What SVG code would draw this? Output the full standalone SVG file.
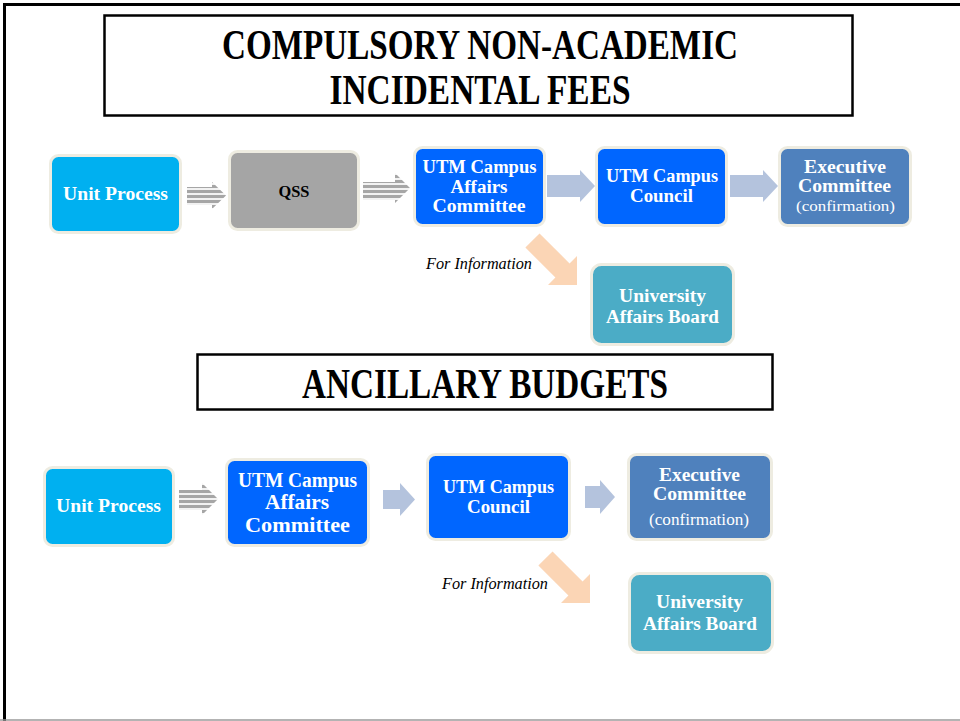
<svg xmlns="http://www.w3.org/2000/svg" width="960" height="721" viewBox="0 0 960 721">
<style>
.node{stroke:#eeece1;stroke-width:3}
.t{font-family:"Liberation Serif","DejaVu Serif",serif;font-weight:bold;fill:#fff;text-anchor:middle}
.n{font-family:"Liberation Serif","DejaVu Serif",serif;font-weight:normal;fill:#fff;text-anchor:middle}
.title{font-family:"Liberation Serif","DejaVu Serif",serif;font-weight:bold;fill:#000;text-anchor:middle}
.info{font-family:"Liberation Serif","DejaVu Serif",serif;font-style:italic;fill:#000;font-size:16px}
.blk{fill:#b4c3dd}
.org{fill:#fbd5b5}
.str{fill:url(#stripes)}
</style>
<defs>
<pattern id="stripes" patternUnits="userSpaceOnUse" width="10" height="5">
<rect width="10" height="5" fill="#f2f2f2"/>
<rect width="10" height="3" fill="#a6a6a6"/>
</pattern>
</defs>
<rect width="960" height="721" fill="#fff"/>
<path d="M4.5 721 V4.5 H960" fill="none" stroke="#000" stroke-width="3"/>
<line x1="0" y1="720" x2="960" y2="720" stroke="#9a9a9a" stroke-width="1.5"/>

<g id="title1">
<rect x="104.5" y="15.5" width="748" height="100" fill="#fff" stroke="#000" stroke-width="2.5"/>
<text class="title" x="480" y="59" font-size="42" textLength="516" lengthAdjust="spacingAndGlyphs">COMPULSORY NON-ACADEMIC</text>
<text class="title" x="480" y="104" font-size="42" textLength="301" lengthAdjust="spacingAndGlyphs">INCIDENTAL FEES</text>
</g>

<g id="title2">
<rect x="197.5" y="354.5" width="575" height="55" fill="#fff" stroke="#000" stroke-width="2.5"/>
<text class="title" x="485" y="398" font-size="42" textLength="366" lengthAdjust="spacingAndGlyphs">ANCILLARY BUDGETS</text>
</g>

<g id="connectors">
<polygon class="str" points="187,187 212,187 212,182 226,195.5 212,209 212,205 187,205"/>
<polygon class="str" points="363,182 395,182 395,173 410,188 395,203 395,200 363,200"/>
<polygon class="blk" points="547,175 580,175 580,170 595,186 580,202 580,197 547,197"/>
<polygon class="blk" points="730,175 763,175 763,170 778,186 763,202 763,197 730,197"/>
<polygon class="org" transform="translate(577,285) rotate(45)" points="-20.5,-20.5 0,0 -20.5,20.5 -20.5,10 -63,10 -63,-10 -20.5,-10"/>
<polygon class="str" points="179,490 202,490 202,483 218,499 202,515 202,510 179,510"/>
<polygon class="blk" points="383,490 400,490 400,483 415,499.5 400,516 400,509 383,509"/>
<polygon class="blk" points="585,486 600,486 600,480 615,497 600,514 600,508 585,508"/>
<polygon class="org" transform="translate(590,603) rotate(45)" points="-20.5,-20.5 0,0 -20.5,20.5 -20.5,10 -63,10 -63,-10 -20.5,-10"/>
</g>

<g id="unit1">
<rect class="node" x="50.5" y="155.5" width="130" height="77" rx="8" fill="#00b0f0"/>
<text class="t" x="115.5" y="200" font-size="19" textLength="105" lengthAdjust="spacingAndGlyphs">Unit Process</text>
</g>
<g id="qss">
<rect class="node" x="229.5" y="151.5" width="129" height="78" rx="8" fill="#a5a5a5"/>
<text class="t" x="294" y="197" font-size="17" style="fill:#000" textLength="31" lengthAdjust="spacingAndGlyphs">QSS</text>
</g>
<g id="cac1">
<rect class="node" x="414.5" y="147.5" width="130" height="78" rx="8" fill="#0066ff"/>
<text class="t" x="479.5" y="173" font-size="18.5" textLength="114" lengthAdjust="spacingAndGlyphs">UTM Campus</text>
<text class="t" x="479" y="193" font-size="18.5" textLength="57" lengthAdjust="spacingAndGlyphs">Affairs</text>
<text class="t" x="479" y="212" font-size="18.5" textLength="93" lengthAdjust="spacingAndGlyphs">Committee</text>
</g>
<g id="council1">
<rect class="node" x="596.5" y="147.5" width="130" height="78" rx="8" fill="#0066ff"/>
<text class="t" x="662" y="182" font-size="18.5" textLength="112" lengthAdjust="spacingAndGlyphs">UTM Campus</text>
<text class="t" x="661.5" y="202" font-size="18.5" textLength="63" lengthAdjust="spacingAndGlyphs">Council</text>
</g>
<g id="exec1">
<rect class="node" x="779.5" y="147.5" width="131" height="78" rx="8" fill="#4f81bd"/>
<text class="t" x="845" y="173" font-size="18" textLength="82" lengthAdjust="spacingAndGlyphs">Executive</text>
<text class="t" x="844.5" y="192" font-size="18" textLength="93" lengthAdjust="spacingAndGlyphs">Committee</text>
<text class="n" x="845.5" y="211" font-size="14.5" textLength="99" lengthAdjust="spacingAndGlyphs">(confirmation)</text>
</g>
<g id="info1">
<text class="info" x="426" y="269" textLength="106" lengthAdjust="spacingAndGlyphs">For Information</text>
</g>
<g id="uab1">
<rect class="node" x="591.5" y="264.5" width="142" height="80" rx="10" fill="#4bacc6"/>
<text class="t" x="662.5" y="302" font-size="18.5" textLength="87" lengthAdjust="spacingAndGlyphs">University</text>
<text class="t" x="662.5" y="323" font-size="18.5" textLength="113" lengthAdjust="spacingAndGlyphs">Affairs Board</text>
</g>

<g id="unit2">
<rect class="node" x="44.5" y="467.5" width="129" height="78" rx="8" fill="#00b0f0"/>
<text class="t" x="108.5" y="512" font-size="19" textLength="105" lengthAdjust="spacingAndGlyphs">Unit Process</text>
</g>
<g id="cac2">
<rect class="node" x="226.5" y="459.5" width="142" height="86" rx="8" fill="#0066ff"/>
<text class="t" x="297.5" y="487" font-size="20.5" textLength="119" lengthAdjust="spacingAndGlyphs">UTM Campus</text>
<text class="t" x="297" y="509" font-size="20.5" textLength="64" lengthAdjust="spacingAndGlyphs">Affairs</text>
<text class="t" x="297.5" y="532" font-size="20.5" textLength="105" lengthAdjust="spacingAndGlyphs">Committee</text>
</g>
<g id="council2">
<rect class="node" x="427.5" y="454.5" width="142" height="85" rx="8" fill="#0066ff"/>
<text class="t" x="498.5" y="493" font-size="19" textLength="111" lengthAdjust="spacingAndGlyphs">UTM Campus</text>
<text class="t" x="498.5" y="513" font-size="19" textLength="63" lengthAdjust="spacingAndGlyphs">Council</text>
</g>
<g id="exec2">
<rect class="node" x="628.5" y="454.5" width="143" height="85" rx="8" fill="#4f81bd"/>
<text class="t" x="699.5" y="481" font-size="19" textLength="81" lengthAdjust="spacingAndGlyphs">Executive</text>
<text class="t" x="699.5" y="500" font-size="19" textLength="93" lengthAdjust="spacingAndGlyphs">Committee</text>
<text class="n" x="699" y="525" font-size="16" textLength="100" lengthAdjust="spacingAndGlyphs">(confirmation)</text>
</g>
<g id="info2">
<text class="info" x="442" y="589" textLength="106" lengthAdjust="spacingAndGlyphs">For Information</text>
</g>
<g id="uab2">
<rect class="node" x="629.5" y="573.5" width="143" height="79" rx="10" fill="#4bacc6"/>
<text class="t" x="699.5" y="608" font-size="18.5" textLength="87" lengthAdjust="spacingAndGlyphs">University</text>
<text class="t" x="700" y="630" font-size="18.5" textLength="114" lengthAdjust="spacingAndGlyphs">Affairs Board</text>
</g>
</svg>
